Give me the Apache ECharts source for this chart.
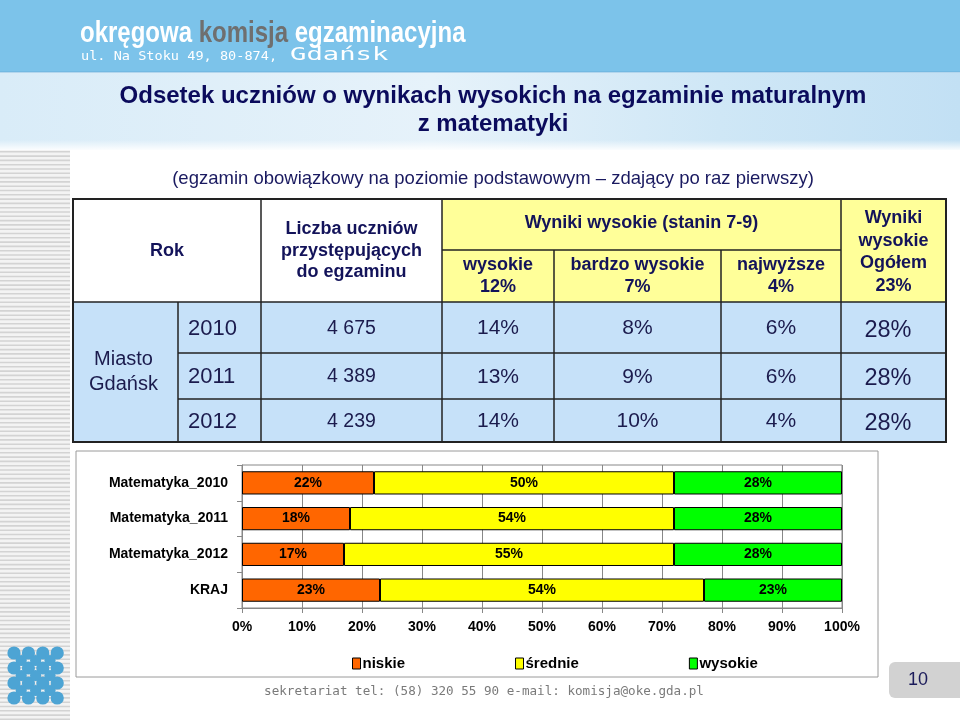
<!DOCTYPE html>
<html><head><meta charset="utf-8">
<script src="https://cdn.jsdelivr.net/npm/echarts@6/dist/echarts.min.js"></script>
<style>html,body{margin:0;padding:0;background:#fff}#c{width:960px;height:720px}</style>
</head><body><div id="c"></div>
<script>
// ---- chart data ----
const categories = ['Matematyka_2010', 'Matematyka_2011', 'Matematyka_2012', 'KRAJ'];
const seriesNames = ['niskie', 'średnie', 'wysokie'];
const niskie = [22, 18, 17, 23];
const srednie = [50, 54, 55, 54];
const wysokie = [28, 28, 28, 23];

// ---- table data ----
const tableYears = ['2010', '2011', '2012'];
const tableLiczba = ['4 675', '4 389', '4 239'];
const tableWysokie = ['14%', '13%', '14%'];
const tableBardzo = ['8%', '9%', '10%'];
const tableNajwyzsze = ['6%', '6%', '4%'];
const tableOgolem = ['28%', '28%', '28%'];
const headerLabels = ['wysokie\n12%', 'bardzo wysokie\n7%', 'najwyższe\n4%', 'Wyniki\nwysokie\nOgółem\n23%'];

const F = 'Liberation Sans, Arial, sans-serif';
const NAVY = '#13135a';
const G = [];
function rect(x, y, w, h, style, extra) {
  G.push(Object.assign({ type: 'rect', shape: { x: x, y: y, width: w, height: h }, style: style }, extra || {}));
}
function line(x1, y1, x2, y2, stroke, lw) {
  G.push({ type: 'line', shape: { x1: x1, y1: y1, x2: x2, y2: y2 }, style: { stroke: stroke, lineWidth: lw } });
}
function text(x, y, t, style, extra) {
  G.push(Object.assign({ type: 'text', x: x, y: y,
    style: Object.assign({ text: t, align: 'center', verticalAlign: 'middle', textAlign: 'center', textVerticalAlign: 'middle' }, style) }, extra || {}));
}

// header band
rect(0, 0, 960, 72, { fill: '#7cc3ea' });
line(0, 72, 960, 72, '#6aaedb', 1);
text(80, 34, '{a|okręgowa }{b|komisja}{a| egzaminacyjna}', {
  align: 'left', textAlign: 'left',
  font: 'bold 30px "Liberation Sans Narrow", sans-serif',
  rich: { a: { fill: '#ffffff', font: 'bold 30px "Liberation Sans Narrow", sans-serif' }, b: { fill: '#6f6f6f', font: 'bold 30px "Liberation Sans Narrow", sans-serif' } }
}, { scaleX: 0.8 });
text(81, 57, 'ul. Na Stoku 49, 80-874,', { align: 'left', textAlign: 'left', fill: '#ffffff', font: '11.5px "DejaVu Sans Mono", monospace' }, { scaleX: 1.18 });
text(290, 56, 'Gdańsk', { align: 'left', textAlign: 'left', fill: '#ffffff', font: '17px "DejaVu Sans Mono", monospace' }, { scaleX: 1.6 });

// banner
rect(0, 73, 960, 77, { fill: { type: 'linear', x: 0, y: 0, x2: 1, y2: 0, colorStops: [
  { offset: 0, color: '#d9ecf8' }, { offset: 0.45, color: '#e6f2fa' }, { offset: 0.75, color: '#cfe7f6' }, { offset: 1, color: '#c2e0f4' }] } });
rect(0, 140, 960, 10, { fill: { type: 'linear', x: 0, y: 0, x2: 0, y2: 1, colorStops: [
  { offset: 0, color: 'rgba(255,255,255,0)' }, { offset: 1, color: 'rgba(255,255,255,0.9)' }] } });
text(493, 96, 'Odsetek uczniów o wynikach wysokich na egzaminie maturalnym', { font: 'bold 24px ' + F, fill: '#0b0b5c' });
text(493, 124, 'z matematyki', { font: 'bold 24px ' + F, fill: '#0b0b5c' });

// left striped strip
rect(0, 150, 70, 570, { fill: '#f3f3f3' });
for (let y = 151; y < 720; y += 4.3) rect(0, y, 70, 1.6, { fill: '#d3d3d3' });

// logo
for (let i = 0; i < 4; i++) for (let j = 0; j < 4; j++)
  G.push({ type: 'circle', shape: { cx: 14 + 14.4 * i, cy: 653 + 15 * j, r: 6.6 }, style: { fill: '#4da4d4' } });
for (let i = 0; i < 3; i++) for (let j = 0; j < 3; j++)
  G.push({ type: 'circle', shape: { cx: 21.2 + 14.4 * i, cy: 660.5 + 15 * j, r: 5.6 }, style: { fill: '#4da4d4' } });

// subtitle
text(493, 179, '(egzamin obowiązkowy na poziomie podstawowym – zdający po raz pierwszy)', { font: '18.5px ' + F, fill: '#1a1a60' });

// table
const cx = [73, 178, 261, 442, 554, 721, 841, 946];
const ry = [199, 250, 302, 353, 399, 442];
const YEL = '#ffff99', BLU = '#c6e1f9', BRD = '#222';
rect(cx[0], ry[0], cx[3] - cx[0], ry[2] - ry[0], { fill: '#ffffff' });
rect(cx[3], ry[0], cx[7] - cx[3], ry[2] - ry[0], { fill: YEL });
rect(cx[0], ry[2], cx[7] - cx[0], ry[5] - ry[2], { fill: BLU });
// borders
rect(cx[0], ry[0], cx[7] - cx[0], ry[5] - ry[0], { fill: 'none', stroke: BRD, lineWidth: 2 });
line(cx[3], ry[1], cx[6], ry[1], BRD, 1.5);
line(cx[0], ry[2], cx[7], ry[2], BRD, 1.5);
line(cx[1], ry[3], cx[7], ry[3], BRD, 1.5);
line(cx[1], ry[4], cx[7], ry[4], BRD, 1.5);
line(cx[1], ry[2], cx[1], ry[5], BRD, 1.5);
line(cx[2], ry[0], cx[2], ry[5], BRD, 1.5);
line(cx[3], ry[0], cx[3], ry[5], BRD, 1.5);
line(cx[4], ry[1], cx[4], ry[5], BRD, 1.5);
line(cx[5], ry[1], cx[5], ry[5], BRD, 1.5);
line(cx[6], ry[0], cx[6], ry[5], BRD, 1.5);
// header texts
const HF = 'bold 18px ' + F;
text((cx[0] + cx[2]) / 2, 251, 'Rok', { font: HF, fill: NAVY });
text((cx[2] + cx[3]) / 2, 251, 'Liczba uczniów\nprzystępujących\ndo egzaminu', { font: HF, fill: NAVY, lineHeight: 21.5 });
text((cx[3] + cx[6]) / 2, 223, 'Wyniki wysokie (stanin 7-9)', { font: HF, fill: NAVY });
text((cx[3] + cx[4]) / 2, 276, headerLabels[0], { font: HF, fill: NAVY, lineHeight: 21.5 });
text((cx[4] + cx[5]) / 2, 276, headerLabels[1], { font: HF, fill: NAVY, lineHeight: 21.5 });
text((cx[5] + cx[6]) / 2, 276, headerLabels[2], { font: HF, fill: NAVY, lineHeight: 21.5 });
text((cx[6] + cx[7]) / 2, 252, headerLabels[3], { font: HF, fill: NAVY, lineHeight: 22.5 });
// body texts
const BC = '#1b1b4d';
text((cx[0] + cx[1]) / 2 - 2, 372, 'Miasto\nGdańsk', { font: '20px ' + F, fill: BC, lineHeight: 25 });
const cols = [tableLiczba, tableWysokie, tableBardzo, tableNajwyzsze];
const colFonts = ['19.5px ', '21px ', '21px ', '21px '];
for (let r = 0; r < 3; r++) {
  const y = (ry[r + 2] + ry[r + 3]) / 2 + 1;
  text(188, y, tableYears[r], { font: '22px ' + F, fill: BC, align: 'left', textAlign: 'left' });
  for (let c = 0; c < cols.length; c++) {
    const xm = (cx[c + 2] + cx[c + 3]) / 2;
    text(xm, y, cols[c][r], { font: colFonts[c] + F, fill: BC });
  }
  text(888, y + 2, tableOgolem[r], { font: '23.5px ' + F, fill: BC });
}

// chart box
rect(76, 451, 802, 226, { fill: 'none', stroke: '#9a9a9a', lineWidth: 1 });

// footer
text(484, 692, 'sekretariat tel: (58) 320 55 90 e-mail: komisja@oke.gda.pl', { font: '12.6px "DejaVu Sans Mono", monospace', fill: '#7a7a7a' });
rect(889, 662, 71, 36, { fill: '#d2d2d2' }, { shape: { x: 889, y: 662, width: 71, height: 36, r: [6, 0, 0, 6] } });
text(918, 680, '10', { font: '18px ' + F, fill: '#1b1b5a' });

const labelStyle = { show: true, position: 'inside', formatter: '{c}%', color: '#000', fontWeight: 'bold', fontSize: 14, fontFamily: F };
const colors = ['#ff6600', '#ffff00', '#00ff00'];
const datas = [niskie, srednie, wysokie];

const option = {
  backgroundColor: '#ffffff',
  animation: false,
  graphic: { elements: G },
  grid: { left: 242, right: 118, top: 465, bottom: 112, show: true, borderColor: '#888', borderWidth: 1, backgroundColor: 'transparent', outerBoundsMode: 'none', containLabel: false },
  xAxis: {
    type: 'value', min: 0, max: 100, interval: 10,
    axisLabel: { formatter: '{value}%', color: '#000', fontWeight: 'bold', fontSize: 14, fontFamily: F, margin: 12 },
    axisLine: { show: true, lineStyle: { color: '#888' } },
    axisTick: { show: true, length: 5, lineStyle: { color: '#888' } },
    splitLine: { show: true, lineStyle: { color: '#888', width: 1 } }
  },
  yAxis: {
    type: 'category', data: categories, inverse: true,
    axisLabel: { color: '#000', fontWeight: 'bold', fontSize: 14, fontFamily: F, margin: 14 },
    axisLine: { show: true, lineStyle: { color: '#888' } },
    axisTick: { show: true, length: 5, lineStyle: { color: '#888' } }
  },
  legend: {
    data: seriesNames, left: 347, top: 651, itemGap: 110, itemWidth: 8, itemHeight: 11, icon: 'rect',
    textStyle: { fontWeight: 'bold', fontSize: 15, color: '#000', fontFamily: F, padding: [0, 0, 0, -3] },
    itemStyle: { borderColor: '#000', borderWidth: 1 }
  },
  series: seriesNames.map((n, i) => ({
    name: n, type: 'bar', stack: 'total', data: datas[i], barCategoryGap: '35%',
    itemStyle: { color: colors[i], borderColor: '#000', borderWidth: 1 },
    label: labelStyle
  }))
};
const chart = echarts.init(document.getElementById('c'), null, { renderer: 'canvas' });
chart.setOption(option);
</script>
</body></html>
